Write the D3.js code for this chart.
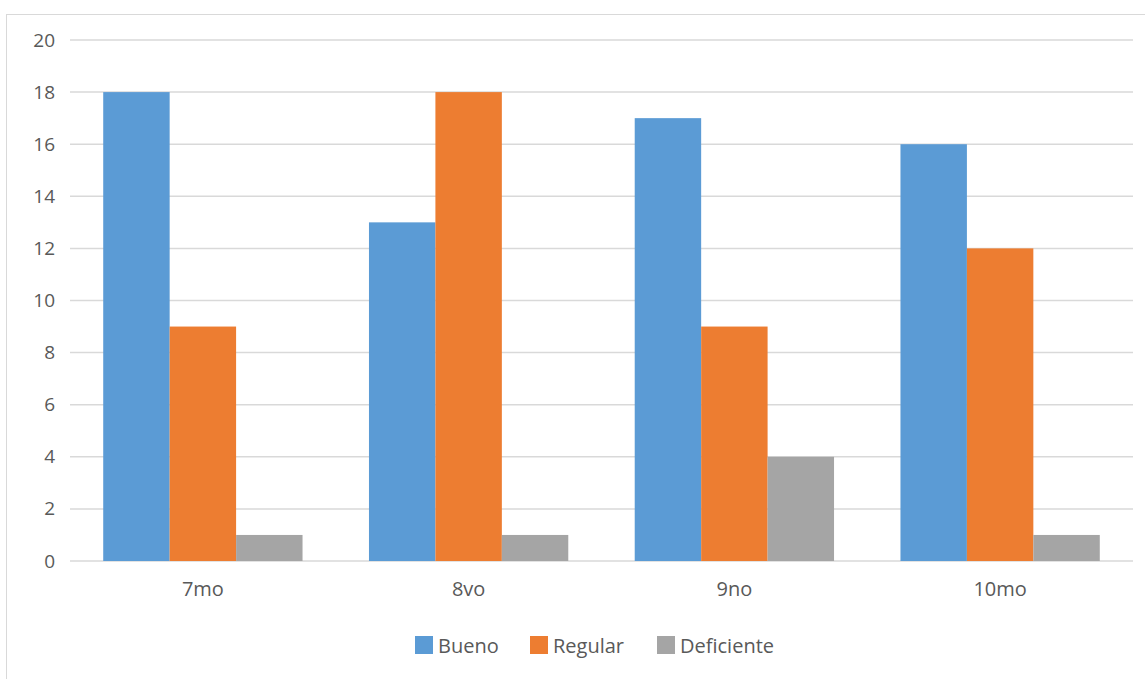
<!DOCTYPE html>
<html><head><meta charset="utf-8">
<script src="https://cdn.jsdelivr.net/npm/d3@7"></script>
<style>body{margin:0;background:#fff}svg{display:block}</style>
</head><body>
<script>
const categories = ["7mo", "8vo", "9no", "10mo"];
const seriesNames = ["Bueno", "Regular", "Deficiente"];
const bueno = [18, 13, 17, 16];
const regular = [9, 18, 9, 12];
const deficiente = [1, 1, 4, 1];
const colors = ["#5B9BD5", "#ED7D31", "#A5A5A5"];
const yTicks = [0, 2, 4, 6, 8, 10, 12, 14, 16, 18, 20];

(function () {
const W = 1145, H = 679;
const svg = d3.select("body").append("svg").attr("width", W).attr("height", H);
const font = "'Open Sans', 'Noto Sans', sans-serif";
const textColor = "#595959";

// outer chart border (cropped at right/bottom)
svg.append("rect").attr("x", 6.5).attr("y", 14.5).attr("width", W + 10).attr("height", H + 10)
  .attr("fill", "#fff").attr("stroke", "#d9d9d9").attr("stroke-width", 1);

const pLeft = 70, pRight = 1133, pTop = 40, pBottom = 561;
const x = d3.scaleBand().domain(categories).range([pLeft, pRight]).paddingInner(0).paddingOuter(0);
const xs = d3.scaleBand().domain(seriesNames).range([0, x.bandwidth()]).paddingInner(0).paddingOuter(0.5);
const y = d3.scaleLinear().domain([0, 20]).range([pBottom, pTop]);

// gridlines
svg.append("g").selectAll("line").data(yTicks).join("line")
  .attr("x1", pLeft).attr("x2", pRight)
  .attr("y1", d => y(d)).attr("y2", d => y(d))
  .attr("stroke", "#d9d9d9").attr("stroke-width", 1.5);

// y axis labels
const yAxis = d3.axisLeft(y).tickValues(yTicks).tickSize(0).tickPadding(0);
const gy = svg.append("g").attr("transform", `translate(${pLeft - 15},0)`).call(yAxis);
gy.select(".domain").remove();
gy.selectAll("text").attr("font-family", font).attr("font-size", 19).attr("fill", textColor);

const series = [bueno, regular, deficiente];
const groups = svg.append("g").selectAll("g").data(categories).join("g")
  .attr("transform", d => `translate(${x(d)},0)`);
groups.selectAll("rect").data((c, i) => seriesNames.map((s, j) => ({s, v: series[j][i], j})))
  .join("rect")
  .attr("x", d => xs(d.s)).attr("width", xs.bandwidth())
  .attr("y", d => y(d.v)).attr("height", d => y(0) - y(d.v))
  .attr("fill", d => colors[d.j]);

// x axis labels
const xAxis = d3.axisBottom(x).tickSize(0).tickPadding(0);
const gx = svg.append("g").attr("transform", `translate(0,${pBottom})`).call(xAxis);
gx.select(".domain").remove();
gx.selectAll("text").attr("font-family", font).attr("font-size", 20).attr("fill", textColor)
  .attr("dy", null).attr("y", 35);

// legend
const legendX = [415, 530, 657];
const lg = svg.append("g").selectAll("g").data(seriesNames).join("g")
  .attr("transform", (d, i) => `translate(${legendX[i]},636)`);
lg.append("rect").attr("width", 18).attr("height", 18).attr("fill", (d, i) => colors[i]);
lg.append("text").attr("x", 23).attr("y", 17).text(d => d)
  .attr("font-family", font).attr("font-size", 20).attr("fill", textColor);
})();
</script>
</body></html>
